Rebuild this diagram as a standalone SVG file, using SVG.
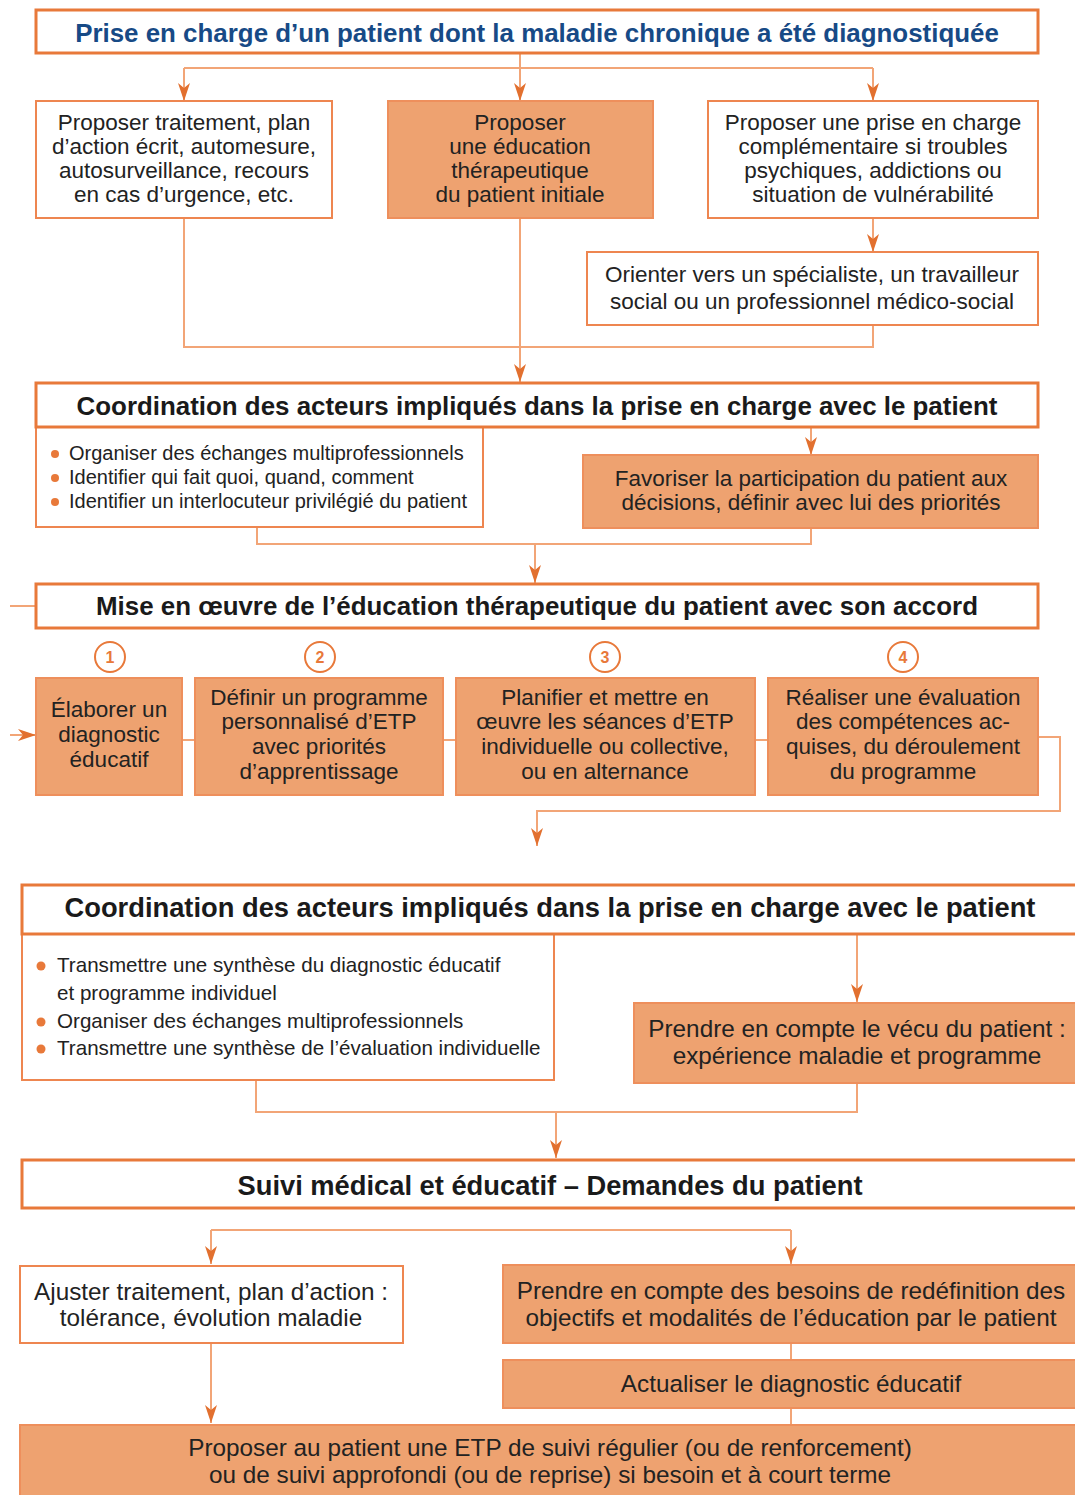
<svg xmlns="http://www.w3.org/2000/svg" width="1075" height="1495" viewBox="0 0 1075 1495">
<defs>
<marker id="ah" viewBox="0 0 18 12" markerWidth="18" markerHeight="12" markerUnits="userSpaceOnUse" refX="18" refY="6" orient="auto">
<path d="M0,0 L18,6 L0,12 L5,6 z" fill="#e2702f"/>
</marker>
<style>
.box{fill:#ffffff;stroke:#ee8650;stroke-width:2}
.hdr{fill:#ffffff;stroke:#e8793a;stroke-width:3}
.fill{fill:#eea270;stroke:#ee8f5c;stroke-width:2}
.con{fill:none;stroke:#f2a577;stroke-width:2}
.t{font-family:"Liberation Sans",Arial,sans-serif;font-size:22.5px;fill:#222;text-anchor:middle}
.tb{font-size:24.3px}
.l{font-family:"Liberation Sans",Arial,sans-serif;font-size:20px;fill:#222}
.l2{font-family:"Liberation Sans",Arial,sans-serif;font-size:20.6px;fill:#222}
.h{font-family:"Liberation Sans",Arial,sans-serif;font-size:25.9px;font-weight:bold;fill:#1a1a1a;text-anchor:middle}
.hb{font-size:27.3px}
.blue{fill:#174a86}
.bul{fill:#e8793a}
.num{fill:#fff;stroke:#e8793a;stroke-width:2}
.nt{font-family:"Liberation Sans",Arial,sans-serif;font-size:16px;font-weight:bold;fill:#e8793a;text-anchor:middle}
</style>
</defs>

<g id="connectors">
<path class="con" d="M520,53 V68"/>
<path class="con" d="M184,68 H873"/>
<path class="con" d="M184,68 V101" marker-end="url(#ah)"/>
<path class="con" d="M520,68 V101" marker-end="url(#ah)"/>
<path class="con" d="M873,68 V101" marker-end="url(#ah)"/>
<path class="con" d="M873,218 V252" marker-end="url(#ah)"/>
<path class="con" d="M184,218 V347 H873 V325"/>
<path class="con" d="M520,218 V382" marker-end="url(#ah)"/>
<path class="con" d="M811,427 V455" marker-end="url(#ah)"/>
<path class="con" d="M257,527 V544 H811 V528"/>
<path class="con" d="M535,544 V583" marker-end="url(#ah)"/>
<path class="con" d="M10,606 H36"/>
<path class="con" d="M10,735 H36" marker-end="url(#ah)"/>
<path class="con" d="M182,740 H195"/>
<path class="con" d="M443,740 H456"/>
<path class="con" d="M755,740 H768"/>
<path class="con" d="M1038,737 H1060 V811 H537 V846" marker-end="url(#ah)"/>
<path class="con" d="M857,934 V1002" marker-end="url(#ah)"/>
<path class="con" d="M256,1080 V1112 H857 V1083"/>
<path class="con" d="M556,1112 V1158" marker-end="url(#ah)"/>
<path class="con" d="M211,1230 H791"/>
<path class="con" d="M211,1230 V1264" marker-end="url(#ah)"/>
<path class="con" d="M791,1230 V1264" marker-end="url(#ah)"/>
<path class="con" d="M791,1343 V1360"/>
<path class="con" d="M791,1408 V1425"/>
<path class="con" d="M211,1343 V1423" marker-end="url(#ah)"/>
</g>

<g id="title">
<rect class="hdr" x="36" y="10" width="1002" height="43"/>
<text class="h blue" x="537" y="42">Prise en charge d’un patient dont la maladie chronique a été diagnostiquée</text>
</g>

<g id="boxA">
<rect class="box" x="36" y="101" width="296" height="117"/>
<text class="t" x="184" y="130">Proposer traitement, plan</text>
<text class="t" x="184" y="154">d’action écrit, automesure,</text>
<text class="t" x="184" y="178">autosurveillance, recours</text>
<text class="t" x="184" y="202">en cas d’urgence, etc.</text>
</g>

<g id="boxB">
<rect class="fill" x="388" y="101" width="265" height="117"/>
<text class="t" x="520" y="130">Proposer</text>
<text class="t" x="520" y="154">une éducation</text>
<text class="t" x="520" y="178">thérapeutique</text>
<text class="t" x="520" y="202">du patient initiale</text>
</g>

<g id="boxC">
<rect class="box" x="708" y="101" width="330" height="117"/>
<text class="t" x="873" y="130">Proposer une prise en charge</text>
<text class="t" x="873" y="154">complémentaire si troubles</text>
<text class="t" x="873" y="178">psychiques, addictions ou</text>
<text class="t" x="873" y="202">situation de vulnérabilité</text>
</g>

<g id="boxD">
<rect class="box" x="587" y="252" width="451" height="73"/>
<text class="t" x="812" y="282">Orienter vers un spécialiste, un travailleur</text>
<text class="t" x="812" y="309">social ou un professionnel médico-social</text>
</g>

<g id="coord1">
<rect class="box" x="36" y="427" width="447" height="100"/>
<rect class="hdr" x="36" y="383" width="1002" height="44"/>
<text class="h" x="537" y="415">Coordination des acteurs impliqués dans la prise en charge avec le patient</text>
<circle class="bul" cx="55" cy="454" r="4"/>
<circle class="bul" cx="55" cy="478" r="4"/>
<circle class="bul" cx="55" cy="502" r="4"/>
<text class="l" x="69" y="460">Organiser des échanges multiprofessionnels</text>
<text class="l" x="69" y="484">Identifier qui fait quoi, quand, comment</text>
<text class="l" x="69" y="508">Identifier un interlocuteur privilégié du patient</text>
</g>

<g id="favoriser">
<rect class="fill" x="583" y="455" width="455" height="73"/>
<text class="t" x="811" y="486">Favoriser la participation du patient aux</text>
<text class="t" x="811" y="510">décisions, définir avec lui des priorités</text>
</g>

<g id="mise">
<rect class="hdr" x="36" y="584" width="1002" height="44"/>
<text class="h" x="537" y="615">Mise en œuvre de l’éducation thérapeutique du patient avec son accord</text>
</g>

<g id="step1">
<circle class="num" cx="110" cy="657" r="15"/>
<text class="nt" x="110" y="663">1</text>
<rect class="fill" x="36" y="678" width="146" height="117"/>
<text class="t" x="109" y="717">Élaborer un</text>
<text class="t" x="109" y="742">diagnostic</text>
<text class="t" x="109" y="767">éducatif</text>
</g>

<g id="step2">
<circle class="num" cx="320" cy="657" r="15"/>
<text class="nt" x="320" y="663">2</text>
<rect class="fill" x="195" y="678" width="248" height="117"/>
<text class="t" x="319" y="705">Définir un programme</text>
<text class="t" x="319" y="729">personnalisé d’ETP</text>
<text class="t" x="319" y="754">avec priorités</text>
<text class="t" x="319" y="779">d’apprentissage</text>
</g>

<g id="step3">
<circle class="num" cx="605" cy="657" r="15"/>
<text class="nt" x="605" y="663">3</text>
<rect class="fill" x="456" y="678" width="299" height="117"/>
<text class="t" x="605" y="705">Planifier et mettre en</text>
<text class="t" x="605" y="729">œuvre les séances d’ETP</text>
<text class="t" x="605" y="754">individuelle ou collective,</text>
<text class="t" x="605" y="779">ou en alternance</text>
</g>

<g id="step4">
<circle class="num" cx="903" cy="657" r="15"/>
<text class="nt" x="903" y="663">4</text>
<rect class="fill" x="768" y="678" width="270" height="117"/>
<text class="t" x="903" y="705">Réaliser une évaluation</text>
<text class="t" x="903" y="729">des compétences ac-</text>
<text class="t" x="903" y="754">quises, du déroulement</text>
<text class="t" x="903" y="779">du programme</text>
</g>

<g id="coord2">
<rect class="box" x="22" y="934" width="532" height="146"/>
<rect class="hdr" x="22" y="885" width="1060" height="49"/>
<text class="h hb" x="550" y="917">Coordination des acteurs impliqués dans la prise en charge avec le patient</text>
<circle class="bul" cx="41" cy="966" r="4.5"/>
<circle class="bul" cx="41" cy="1022" r="4.5"/>
<circle class="bul" cx="41" cy="1049" r="4.5"/>
<text class="l2" x="57" y="972">Transmettre une synthèse du diagnostic éducatif</text>
<text class="l2" x="57" y="1000">et programme individuel</text>
<text class="l2" x="57" y="1028">Organiser des échanges multiprofessionnels</text>
<text class="l2" x="57" y="1055">Transmettre une synthèse de l’évaluation individuelle</text>
</g>

<g id="vecu">
<rect class="fill" x="634" y="1003" width="450" height="80"/>
<text class="t tb" x="857" y="1037">Prendre en compte le vécu du patient :</text>
<text class="t tb" x="857" y="1064">expérience maladie et programme</text>
</g>

<g id="suivi">
<rect class="hdr" x="22" y="1160" width="1060" height="48"/>
<text class="h hb" x="550" y="1195">Suivi médical et éducatif – Demandes du patient</text>
</g>

<g id="ajuster">
<rect class="box" x="20" y="1266" width="383" height="77"/>
<text class="t tb" x="211" y="1300">Ajuster traitement, plan d’action :</text>
<text class="t tb" x="211" y="1326">tolérance, évolution maladie</text>
</g>

<g id="besoins">
<rect class="fill" x="503" y="1265" width="580" height="78"/>
<text class="t tb" x="791" y="1299">Prendre en compte des besoins de redéfinition des</text>
<text class="t tb" x="791" y="1326">objectifs et modalités de l’éducation par le patient</text>
</g>

<g id="actualiser">
<rect class="fill" x="503" y="1360" width="580" height="48"/>
<text class="t tb" x="791" y="1392">Actualiser le diagnostic éducatif</text>
</g>

<g id="proposerETP">
<rect class="fill" x="20" y="1425" width="1065" height="80"/>
<text class="t tb" x="550" y="1456">Proposer au patient une ETP de suivi régulier (ou de renforcement)</text>
<text class="t tb" x="550" y="1483">ou de suivi approfondi (ou de reprise) si besoin et à court terme</text>
</g>
</svg>
